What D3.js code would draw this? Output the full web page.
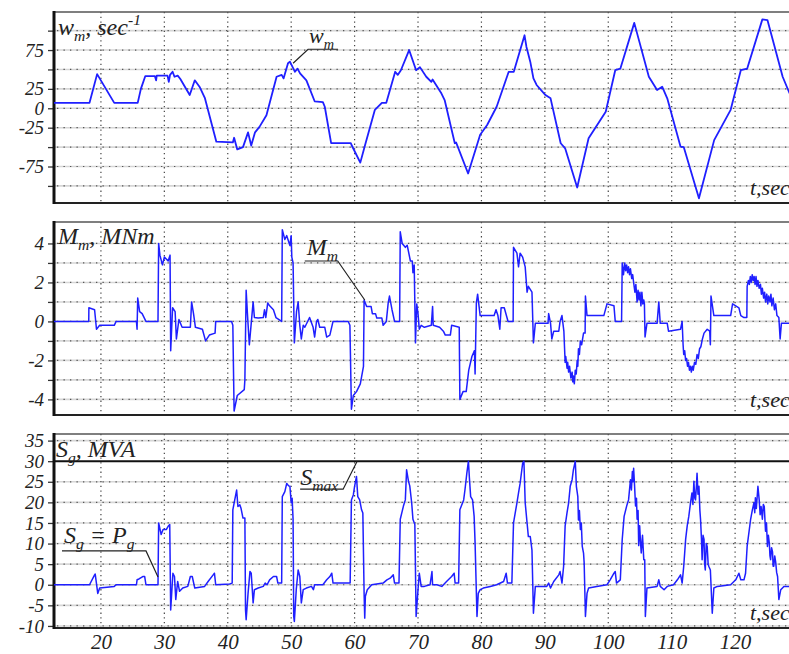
<!DOCTYPE html>
<html>
<head>
<meta charset="utf-8">
<script src="https://cdn.jsdelivr.net/npm/d3@7"></script>
<style>
body{margin:0;background:#fff;}
svg text{font-family:"Liberation Serif","Times New Roman",serif !important;font-style:italic;fill:#222;}
</style>
</head>
<body>
<script>
// time axis
var tDomain=[12.6,128.5];
var xTicks=[20,30,40,50,60,70,80,90,100,110,120];

// w_m, sec^-1
var wGrid=[-100,-75,-50,-25,0,25,50,75,100];
var wLabels=[75,25,0,-25,-75];
var wSeries=[[12.6,7],[18.2,7],[19.4,44],[22.1,7],[25.8,7],[26.3,25],[27.0,41.5],[28.5,41.5],[28.7,36],[28.8,42],[30.5,42],[30.7,34],[30.9,43],[31.3,47],[31.6,40.6],[32.1,42],[32.5,38],[34.0,17],[34.8,36],[35.6,27],[36.4,13],[38.2,-43],[40.8,-44],[41.0,-38],[41.5,-53],[42.4,-50],[43.2,-31],[43.7,-48],[44.3,-31],[45.0,-24],[46.1,-9],[47.7,40.6],[48.5,43],[48.8,38.5],[49.5,58],[49.8,60],[50.6,47],[51.0,51],[51.4,45],[52.4,36],[53.7,9],[55.0,8],[55.3,2],[56.3,-45],[59.4,-45],[59.5,-47],[60.9,-70],[61.6,-49],[63.2,-2],[64.3,7],[65.0,7],[66.4,47],[66.8,43],[67.3,49],[68.6,75],[69.7,49],[70.3,53],[71.3,40.6],[72.1,34],[72.3,37],[73.7,19],[74.2,10.6],[75.8,-45],[76.0,-44],[76.2,-48],[77.9,-84],[79.8,-34],[80.9,-21.5],[82.4,2],[84.3,47],[85.1,47],[86.8,94],[87.1,79],[87.7,60],[88.2,38.5],[88.7,30],[90.1,17],[90.9,12.8],[92.5,-45],[93.2,-51.6],[95.1,-102],[96.9,-38.7],[99.6,-4.4],[101.1,49],[101.9,51],[104.1,110],[106.4,40.6],[107.7,23.5],[108.5,27.8],[109.3,12.8],[111.4,-49.5],[111.9,-50],[114.3,-116],[116.7,-41],[119.3,-2],[120.9,49],[121.9,51],[124.3,114.5],[125.1,113.6],[127.5,40.6],[128.6,19]];

// M_m, MNm
var mGrid=[-4,-3,-2,-1,0,1,2,3,4];
var mLabels=[4,2,0,-2,-4];
var mSeries=[[12.6,0],[18.08,0],[18.1,0.7],[19.0,0.6],[19.3,-0.4],[19.8,-0.2],[22.1,-0.2],[22.4,0],[25.6,0],[25.7,-0.4],[25.8,1.2],[26.1,0.5],[26.5,0.4],[27.1,0],[29.0,0],[29.1,4.0],[29.3,3.4],[29.7,2.9],[30.0,3.3],[30.6,3.1],[30.9,3.4],[31.0,-1.5],[31.3,0.7],[31.7,0.5],[31.9,-0.9],[32.3,0.1],[32.8,-0.3],[34.1,-0.3],[34.3,1.0],[34.6,0.4],[34.9,-0.3],[36.0,-0.4],[36.5,-1.0],[37.1,-0.7],[38.0,-0.6],[38.1,0],[40.6,0],[40.8,-0.2],[41.0,-4.6],[41.5,-3.8],[42.6,-3.5],[42.7,-3.0],[42.9,1.6],[43.1,0.4],[43.4,-1.2],[44.0,1.0],[44.2,0.2],[44.8,0.17],[45.6,0.2],[45.8,0.6],[46.0,0.2],[46.3,0.95],[46.6,0.8],[47.2,0.6],[47.6,0.2],[48.5,0],[48.6,4.7],[49.0,4.2],[49.3,4.4],[49.8,3.9],[50.0,4.4],[50.1,3.3],[50.3,3.0],[50.5,-1.1],[50.84,0.5],[51.1,1.0],[51.36,-0.2],[51.6,-0.9],[51.9,-0.2],[52.15,-0.3],[52.9,0.2],[53.46,-0.3],[53.7,-0.8],[54.0,0],[54.2,0.1],[54.5,-0.3],[55.3,-0.3],[55.6,-0.8],[56.1,-0.7],[56.6,0],[59.0,0],[59.26,-0.2],[59.5,-4.5],[59.8,-3.8],[60.3,-3.6],[60.9,-3.2],[61.4,-2.3],[61.5,1.1],[61.9,0.77],[62.6,0.77],[62.8,0.4],[63.3,0.4],[63.5,0.17],[64.3,0.17],[64.5,-0.2],[65.0,0],[65.3,0.95],[65.5,1.3],[65.9,0.6],[66.3,0],[67.1,0],[67.2,4.6],[67.5,4.0],[68.0,3.8],[68.3,3.9],[68.8,3.1],[69.1,3.1],[69.2,2.5],[69.4,2.9],[69.6,-1.1],[69.8,0.9],[70.0,0.4],[70.2,-0.4],[70.5,-0.2],[71.0,-0.3],[72.1,-0.2],[72.3,0.77],[72.4,-0.2],[73.4,-0.3],[74.0,-0.5],[74.3,-0.7],[75.1,-0.7],[75.3,-0.2],[76.5,-0.3],[76.6,-4.0],[77.1,-3.6],[77.6,-3.6],[78.0,-2.5],[78.5,-1.8],[78.9,-1.5],[79.0,-2.7],[79.2,0.94],[79.4,1.4],[79.8,0.3],[82.0,0.3],[82.3,0.6],[82.6,0.3],[82.9,-0.4],[83.1,0.7],[83.6,0.7],[84.2,0],[85.0,0],[85.06,3.8],[85.6,3.5],[85.85,2.8],[86.1,3.5],[86.5,3.3],[86.9,2.8],[87.2,1.5],[87.4,1.8],[87.97,1.5],[88.2,-1.1],[88.5,-0.1],[90.5,-0.1],[90.6,0.4],[90.9,-0.1],[91.1,-0.9],[91.4,-0.5],[92.2,-0.5],[92.4,0],[92.7,0.3],[93.0,-0.5],[93.2,-2.1],[93.3,-1.8],[93.5,-2.4],[93.6,-2.1],[93.75,-2.6],[93.9,-2.3],[94.1,-2.9],[94.3,-2.6],[94.4,-3.1],[94.5,-2.8],[94.65,-3.2],[94.8,-2.5],[94.95,-2.7],[95.1,-2.0],[95.2,-2.3],[95.3,-1.4],[95.45,-1.7],[95.6,-1.0],[95.8,-1.2],[96.1,-0.6],[96.35,-0.6],[96.4,1.3],[96.65,0.3],[99.3,0.3],[99.8,0.9],[100.9,0.8],[101.1,0],[102.1,0],[102.2,3.0],[102.4,2.4],[102.6,3.0],[102.75,2.6],[102.9,2.9],[103.05,2.5],[103.2,2.8],[103.35,2.4],[103.5,2.7],[103.7,2.2],[103.85,2.4],[104.0,2.0],[104.2,1.5],[104.35,1.9],[104.55,1.0],[104.7,1.6],[104.85,1.1],[105.0,1.5],[105.15,0.8],[105.3,1.5],[105.45,0.9],[105.6,1.1],[105.7,0.9],[105.8,-0.8],[106.1,-0.1],[107.7,-0.1],[107.97,1.0],[108.2,-0.1],[109.3,-0.1],[109.5,-0.5],[111.4,-0.4],[111.65,0],[111.8,-1.2],[111.9,-1.7],[112.05,-1.5],[112.2,-2.0],[112.35,-1.9],[112.5,-2.3],[112.65,-2.1],[112.8,-2.5],[112.95,-2.3],[113.1,-2.6],[113.25,-2.3],[113.4,-2.5],[113.6,-2.1],[113.8,-2.2],[114.0,-1.7],[114.2,-1.9],[114.4,-1.4],[114.6,-1.3],[114.85,-0.9],[115.1,-0.6],[115.6,-0.4],[116.0,-0.5],[116.1,-1.2],[116.2,1.3],[116.65,0.3],[119.3,0.3],[119.6,0.9],[120.6,0.7],[120.9,0.3],[121.4,0.2],[121.85,0.2],[121.9,1.8],[122.1,2.1],[122.25,1.9],[122.4,2.3],[122.55,2.0],[122.7,2.4],[122.85,2.1],[123.0,2.3],[123.15,1.9],[123.3,2.3],[123.45,1.8],[123.6,2.1],[123.8,1.7],[124.0,1.9],[124.15,1.4],[124.3,1.7],[124.5,1.2],[124.65,1.5],[124.8,1.0],[125.0,1.4],[125.15,0.9],[125.3,1.3],[125.5,1.0],[125.65,1.4],[125.8,0.8],[126.0,1.2],[126.2,0.6],[126.4,0.9],[126.6,0.3],[126.9,0.2],[127.1,-0.9],[127.3,-0.1],[128.6,-0.1]];

// S_g, MVA
var sGrid=[-10,-5,0,5,10,15,20,25,35];
var sLabels=[35,30,25,20,15,10,5,0,-5,-10];
var sMax=30;
var sSeries=[[12.6,0],[18.2,0],[19.0,2.4],[19.1,2.6],[19.5,-2.1],[19.8,-0.8],[22.1,-0.4],[22.4,0],[25.6,0],[25.7,1.2],[26.0,1.4],[26.6,2.0],[26.9,2.0],[27.1,0],[29.0,0],[29.1,15],[29.5,12.2],[29.8,13.4],[30.3,13.4],[30.6,14.2],[30.85,14.6],[31.0,-6.1],[31.35,2.8],[31.6,2.0],[31.8,-3.6],[32.1,0.8],[32.4,-1.6],[32.9,-0.8],[33.7,-0.4],[34.1,2.0],[34.4,2.0],[34.8,-0.8],[36.35,-0.4],[36.9,0.8],[37.7,2.4],[37.9,2.8],[38.1,0],[40.3,0.2],[40.7,0.4],[40.8,18.2],[41.1,20.6],[41.4,23],[41.6,19],[41.9,19.4],[42.1,18.5],[42.4,16.2],[42.7,16.2],[42.8,-6.1],[42.9,-8.5],[43.2,-2.1],[43.5,3.2],[43.7,2.8],[44.0,-4.4],[44.2,-1.2],[44.8,-0.8],[45.6,-0.4],[45.9,0.4],[46.2,0],[46.6,1.2],[47.2,2.0],[47.7,2.0],[47.9,0.4],[48.5,0.4],[48.6,21.4],[49.0,22.6],[49.3,24.6],[49.6,24.0],[49.8,23.9],[50.0,19.9],[50.15,21],[50.3,15.9],[50.4,-7.7],[50.5,-8.9],[50.8,-1.2],[51.1,3.6],[51.36,2.0],[51.6,-4.4],[51.9,-1.2],[52.4,-0.8],[53.2,-0.4],[53.5,-1.2],[53.7,0],[55.0,0],[55.6,1.2],[56.1,2.0],[56.4,2.8],[56.6,0.4],[59.3,0.4],[59.5,20.6],[59.8,21.8],[60.0,23.9],[60.3,26.3],[60.5,21.4],[60.8,20.6],[61.1,18.2],[61.3,17.4],[61.5,-2.1],[61.6,-8.1],[61.7,-2.8],[62.0,-1.2],[62.7,0],[64.5,0.4],[65.1,1.2],[65.6,1.6],[66.1,2.4],[66.3,0.4],[67.0,0.4],[67.2,15.9],[67.5,17.8],[67.7,19.1],[68.0,20.6],[68.2,27.9],[68.5,25.1],[68.7,24],[69.0,19.9],[69.2,15.9],[69.5,14.6],[69.7,-7.7],[70.0,-1.2],[70.2,2.8],[70.5,-0.4],[71.0,-0.4],[71.9,0],[72.2,3.2],[72.3,0],[72.96,0],[73.75,-0.4],[74.5,0.8],[75.3,2.0],[75.7,2.8],[75.85,0.4],[76.4,0.4],[76.6,18.2],[77.2,20.6],[77.4,23],[77.7,27.1],[77.95,30],[78.1,26],[78.3,21.4],[78.6,20.6],[78.85,16.6],[79.0,10.1],[79.3,-7.7],[79.5,-2.1],[79.8,-1.2],[80.3,-0.8],[81.4,-0.4],[82.4,0],[83.5,0.8],[83.9,2.8],[84.1,0.4],[84.8,0.4],[85.06,15],[85.6,19.9],[85.85,22.3],[86.1,24.6],[86.5,29.5],[86.7,30],[86.9,19.9],[87.2,15],[87.4,11.7],[87.7,11.7],[87.97,8.4],[88.2,-6.9],[88.5,-0.4],[90.3,-0.4],[90.6,0.4],[90.9,-0.8],[91.4,0.8],[92.2,2.4],[92.4,3.2],[92.7,0.4],[92.96,4.5],[93.2,14.3],[93.5,17.5],[93.75,19.9],[94.0,23.9],[94.3,25.5],[94.5,27.9],[94.8,30],[94.97,23.9],[95.2,21.4],[95.3,15.7],[95.45,18],[95.6,13.4],[95.75,15],[95.9,9.3],[96.1,7.7],[96.2,5.3],[96.4,-7.7],[96.65,-2.1],[96.9,-0.8],[98.2,-0.4],[99.8,0],[100.3,1.2],[100.9,2.8],[101.1,3.2],[101.3,0.4],[101.9,1.2],[102.2,11],[102.5,16.6],[102.9,19.1],[103.2,20.6],[103.5,25.5],[103.65,23],[103.8,27.5],[103.9,25],[104.0,28.3],[104.15,24],[104.3,19.1],[104.45,21],[104.55,15.9],[104.7,18],[104.8,9.5],[104.95,14.3],[105.1,10],[105.2,7.7],[105.4,12],[105.6,6.1],[105.75,6.1],[105.85,-7.7],[106.1,-0.8],[107.7,-0.4],[107.97,1.2],[108.2,-0.4],[108.8,-1.2],[109.3,-0.4],[110.3,0],[110.9,1.2],[111.4,2.4],[111.65,0.4],[111.9,4.5],[112.2,11],[112.45,14.3],[112.7,16.6],[112.97,19.9],[113.2,22.3],[113.35,19.5],[113.5,25.1],[113.65,21],[113.76,20.6],[113.9,24],[114.0,27.1],[114.15,22],[114.3,23.9],[114.45,18],[114.55,15.9],[114.7,11],[114.8,6.1],[114.95,12],[115.1,11],[115.2,5],[115.3,3.6],[115.45,10],[115.6,9.3],[115.75,5],[115.85,4.5],[116.1,3.6],[116.4,-6.9],[116.65,-0.8],[117.2,-0.4],[119.3,0],[120.1,1.2],[120.6,2.8],[120.9,1.2],[121.4,1.2],[121.65,2.8],[121.9,9.3],[122.45,15.9],[122.7,18],[122.97,19.9],[123.1,17.5],[123.2,21.1],[123.35,18.5],[123.6,23.9],[123.8,20.6],[123.95,17],[124.1,19],[124.3,15.9],[124.45,19.5],[124.6,19],[124.8,13],[124.95,15],[125.1,9.3],[125.25,12],[125.4,10],[125.5,7],[125.6,6.1],[125.75,9],[125.9,8],[126.0,4.5],[126.1,4.5],[126.25,7],[126.4,5.5],[126.55,3],[126.7,2],[126.9,-3.6],[127.2,-1.2],[127.7,-0.4],[128.6,-0.4]];

var iWidth=789, iHeight=654;
var iLeft=54, iRight=789;
var sLineColor="#1f1fff";
var sFont="'Liberation Serif','Times New Roman',serif";

var svg=d3.select("body").append("svg")
	.attr("width",iWidth)
	.attr("height",iHeight);

var x=d3.scaleLinear().domain(tDomain).range([iLeft,iRight]);

// text with sub/superscripts: parts = [[string, "n"|"sub"|"sup"], ...]
function RichText(sel,px,py,parts,size)
{
	var t=sel.append("text").attr("x",px).attr("y",py)
		.style("font-size",size+"px").style("font-family",sFont).style("font-style","italic");
	var shift=0;
	parts.forEach(function(p){
		var target=p[1]=="sub" ? size*0.25 : (p[1]=="sup" ? -size*0.42 : 0);
		t.append("tspan")
			.attr("dy",target-shift)
			.style("font-size",(p[1]=="n" ? size : size*0.65)+"px")
			.text(p[0]);
		shift=target;
	});
	return t;
}

function Leader(g,tip,elbow,len)
{
	var ex=tip[0]+elbow[0], ey=tip[1]+elbow[1];
	g.append("path")
		.attr("d","M"+tip[0]+","+tip[1]+"L"+ex+","+ey+"L"+(ex+len)+","+ey)
		.attr("fill","none")
		.attr("stroke","#222")
		.attr("stroke-width",1.2);
	return [ex,ey];
}

function StyleAxisText(sel,size)
{
	sel.attr("font-family",null).attr("font-size",null)
		.style("font-family",sFont)
		.style("font-style","italic")
		.style("font-size",size+"px")
		.attr("fill","#222");
}

function DrawPanel(opt)
{
	var y=d3.scaleLinear().domain(opt.domain).range([opt.bottom,opt.top]);
	var g=svg.append("g");
	var id="clip"+opt.name;

	svg.append("clipPath").attr("id",id)
		.append("rect")
		.attr("x",iLeft).attr("y",opt.top)
		.attr("width",iRight-iLeft).attr("height",opt.bottom-opt.top);

	// horizontal grid: pale band with dark dots
	var hg=g.selectAll(".hgrid").data(opt.grid).enter();
	hg.append("line")
		.attr("x1",iLeft).attr("x2",iRight)
		.attr("y1",function(d){return y(d);}).attr("y2",function(d){return y(d);})
		.attr("stroke","#d6d6d6").attr("stroke-width",1.6);
	hg.append("line")
		.attr("x1",iLeft+3).attr("x2",iRight)
		.attr("y1",function(d){return y(d);}).attr("y2",function(d){return y(d);})
		.attr("stroke","#555").attr("stroke-width",1.2)
		.attr("stroke-dasharray","1.3,5.2");

	// vertical grid
	g.selectAll(".vgrid").data(xTicks).enter().append("line")
		.attr("x1",function(d){return x(d);}).attr("x2",function(d){return x(d);})
		.attr("y1",opt.top).attr("y2",opt.bottom)
		.attr("stroke","#444").attr("stroke-width",1.2)
		.attr("stroke-dasharray","1.3,3.4");

	if(opt.limit!==undefined)
	{
		g.append("line")
			.attr("x1",iLeft).attr("x2",iRight)
			.attr("y1",y(opt.limit)).attr("y2",y(opt.limit))
			.attr("stroke","#111").attr("stroke-width",2);
	}

	// frame
	g.append("line").attr("x1",iLeft).attr("x2",iRight).attr("y1",opt.top).attr("y2",opt.top)
		.attr("stroke","#555").attr("stroke-width",1.3);
	g.append("line").attr("x1",iLeft).attr("x2",iRight).attr("y1",opt.bottom).attr("y2",opt.bottom)
		.attr("stroke","#222").attr("stroke-width",2.2);

	// left axis
	var axisTicks=opt.grid.slice();
	if(opt.limit!==undefined) axisTicks.push(opt.limit);
	var yAxis=d3.axisLeft(y)
		.tickValues(axisTicks)
		.tickSize(6)
		.tickPadding(4)
		.tickFormat(function(d){return opt.labels.indexOf(d)>=0 ? d : "";});
	var ga=g.append("g").attr("transform","translate("+iLeft+",0)").call(yAxis);
	ga.select(".domain").remove();
	ga.selectAll("line").attr("stroke","#333").attr("stroke-width",1.3);
	StyleAxisText(ga.selectAll("text"),19);

	g.append("line").attr("x1",iLeft).attr("x2",iLeft).attr("y1",opt.top-1).attr("y2",opt.bottom+1)
		.attr("stroke","#111").attr("stroke-width",3);

	// trace
	var line=d3.line()
		.x(function(d){return x(d[0]);})
		.y(function(d){return y(d[1]);});
	g.append("path")
		.datum(opt.series)
		.attr("clip-path","url(#"+id+")")
		.attr("d",line)
		.attr("fill","none")
		.attr("stroke",sLineColor)
		.attr("stroke-width",opt.width)
		.attr("stroke-linejoin","round");

	// titles
	RichText(g,opt.titleX,opt.titleY,opt.title,24);
	RichText(g,750,opt.bottom-8,[["t,sec","n"]],22);

	return {g:g,y:y};
}

var p1=DrawPanel({name:"w",top:12,bottom:203,domain:[-122,124],grid:wGrid,labels:wLabels,series:wSeries,width:1.8,
	title:[["w","n"],["m","sub"],[", sec","n"],["-1","sup"]],titleX:58,titleY:35});
var p2=DrawPanel({name:"m",top:222,bottom:415,domain:[-4.8,5.1],grid:mGrid,labels:mLabels,series:mSeries,width:1.5,
	title:[["M","n"],["m","sub"],[", MNm","n"]],titleX:58,titleY:244});
var p3=DrawPanel({name:"s",top:434,bottom:628,domain:[-10.5,36.6],grid:sGrid,labels:sLabels,series:sSeries,width:1.5,limit:sMax,
	title:[["S","n"],["g","sub"],[", MVA","n"]],titleX:56,titleY:457});

// time labels
var xAxis=d3.axisBottom(x).tickValues(xTicks).tickSize(0).tickPadding(6);
var gx=svg.append("g").attr("transform","translate(0,628)").call(xAxis);
gx.select(".domain").remove();
StyleAxisText(gx.selectAll("text"),21);

// annotations
var e;
e=Leader(p1.g,[x(50.3),p1.y(58)],[15,-14],30);
RichText(p1.g,e[0]+1,e[1]-6,[["w","n"],["m","sub"]],22);

e=Leader(p2.g,[x(61.6),p2.y(1.1)],[-27,-39],-33);
RichText(p2.g,e[0]-31,e[1]-6,[["M","n"],["m","sub"]],24);

e=Leader(p3.g,[x(29.0),p3.y(1.9)],[-12,-26],-84);
RichText(p3.g,e[0]-82,e[1]-8,[["S","n"],["g","sub"],[" = P","n"],["g","sub"]],24);

e=Leader(p3.g,[x(60.4),p3.y(sMax)],[-14,28],-43);
RichText(p3.g,e[0]-43,e[1]-4,[["S","n"],["max","sub"]],24);
</script>
</body>
</html>
